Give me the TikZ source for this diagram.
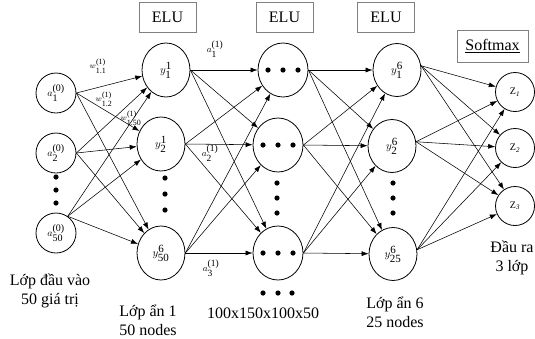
\documentclass[tikz,border=0pt]{standalone}
\usepackage{fontspec}
\setmainfont{Liberation Serif}
\usetikzlibrary{arrows.meta,shapes.geometric}
\newcommand{\sm}[1]{\mbox{#1}}
\begin{document}
\begin{tikzpicture}[x=1pt,y=-1pt,
  inn/.style={draw,circle,line width=0.8pt,minimum size=40pt,inner sep=0pt,font=\fontsize{10}{12}\selectfont},
  hid/.style={draw,ellipse,line width=0.8pt,minimum width=48pt,minimum height=54pt,inner sep=0pt,font=\fontsize{11}{13}\selectfont},
  outn/.style={draw,circle,line width=0.8pt,minimum size=39pt,inner sep=0pt,font=\fontsize{10}{11}\selectfont},
  act/.style={draw=gray,line width=0.6pt,minimum width=57pt,minimum height=30pt,inner sep=0pt,font=\fontsize{16}{18}\selectfont},
  lbl/.style={align=center,font=\fontsize{16}{19}\selectfont},
  wl/.style={font=\fontsize{8}{9}\selectfont,inner sep=0pt},
  al/.style={font=\fontsize{9.5}{11}\selectfont,inner sep=0pt},
  conn/.style={-{Latex[length=7pt,width=5pt]},line width=0.55pt}]
\useasboundingbox (0,0) rectangle (535,338);

% activation boxes
\node[act] (elu1) at (167.5,17) {ELU};
\node[act] (elu2) at (284.5,17) {ELU};
\node[act] (elu3) at (386,17) {ELU};
\node[act,minimum width=71pt,minimum height=32pt] (soft) at (492.5,46) {\underline{Softmax}};

% input layer
\node[inn] (a1) at (56,93) {$a^{\sm{(0)}}_{\sm{1}}$};
\node[inn] (a2) at (56,153) {$a^{\sm{(0)}}_{\sm{2}}$};
\node[inn] (a50) at (56,233) {$a^{\sm{(0)}}_{\sm{50}}$};

% hidden layer 1
\node[hid] (y1) at (166,70) {$y^{\sm{1}}_{\sm{1}}$};
\node[hid] (y2) at (161,144) {$y^{\sm{1}}_{\sm{2}}$};
\node[hid] (y50) at (161,253) {$y^{\sm{6}}_{\sm{50}}$};

% middle hidden layers
\node[hid,minimum width=50pt] (h1) at (283,70) {};
\node[hid,minimum width=50pt] (h2) at (278,145) {};
\node[hid,minimum width=50pt] (h3) at (278,253) {};

% hidden layer 6
\node[hid,minimum height=53pt] (o1) at (397,70) {$y^{\sm{6}}_{\sm{1}}$};
\node[hid,minimum height=53pt] (o2) at (392,146) {$y^{\sm{6}}_{\sm{2}}$};
\node[hid,minimum height=53pt] (o3) at (393,254) {$y^{\sm{6}}_{\sm{25}}$};

% output layer
\node[outn] (z1) at (515,92) {Z\textsubscript{\textit{1}}};
\node[outn] (z2) at (515,148) {Z\textsubscript{\textit{2}}};
\node[outn] (z3) at (515,206) {Z\textsubscript{\textit{3}}};

% dots inside middle nodes
\foreach \yy/\xx in {70/283,145/278,253/278}{
  \foreach \d in {-15,0,15}{
    \fill (\xx+\d,\yy) circle[radius=2.6];
  }
}
% vertical ellipsis dots
\foreach \xx/\ya/\yb/\yc in {56/177/190/203,165/178/194/210,277/183/198/213,393/183/198/213}{
  \fill (\xx,\ya) circle[radius=2.6];
  \fill (\xx,\yb) circle[radius=2.6];
  \fill (\xx,\yc) circle[radius=2.6];
}
% horizontal dots below
\foreach \xx in {263,278,292}{\fill (\xx,293) circle[radius=2.6];}

% connections: input -> hidden 1
\foreach \s in {a1,a2}{
  \foreach \t in {y1,y2,y50}{\draw[conn] (\s.east) -- (\t);}
}
\foreach \t in {y1,y2,y50}{\draw[conn] (a50.55) -- (\t);}
% hidden 1 -> middle
\foreach \s in {y1,y2,y50}{
  \foreach \t in {h1,h2,h3}{\draw[conn] (\s.east) -- (\t);}
}
% middle -> hidden 6
\foreach \s in {h1,h2,h3}{
  \foreach \t in {o1,o2,o3}{\draw[conn] (\s.east) -- (\t);}
}
% hidden 6 -> output
\foreach \s in {o1,o2,o3}{
  \foreach \t in {z1,z2,z3}{\draw[conn] (\s.10) -- (\t);}
}

% weight / activation labels
\node[wl] (w11) at (98,66) {$w^{\sm{(1)}}_{\sm{1.1}}$};
\node[wl] (w12) at (104,99) {$w^{\sm{(1)}}_{\sm{1.2}}$};
\node[wl] (w150) at (131,118) {$w^{\sm{(1)}}_{\sm{1.50}}$};
\node[al] (a11) at (215,49) {$a^{\sm{(1)}}_{\sm{1}}$};
\node[al] (a12) at (210,153) {$a^{\sm{(1)}}_{\sm{2}}$};
\node[al] (a13) at (211,268) {$a^{\sm{(1)}}_{\sm{3}}$};

% layer captions
\node[lbl] (c0) at (50,291) {Lớp đầu vào\\50 giá trị};
\node[lbl] (c1) at (148,320) {Lớp ẩn 1\\50 nodes};
\node[lbl] (c2) at (263,313) {100x150x100x50};
\node[lbl] (c6) at (395,312) {Lớp ẩn 6\\25 nodes};
\node[lbl] (cz) at (512,258) {Đầu ra\\3 lớp};
\end{tikzpicture}
\end{document}
